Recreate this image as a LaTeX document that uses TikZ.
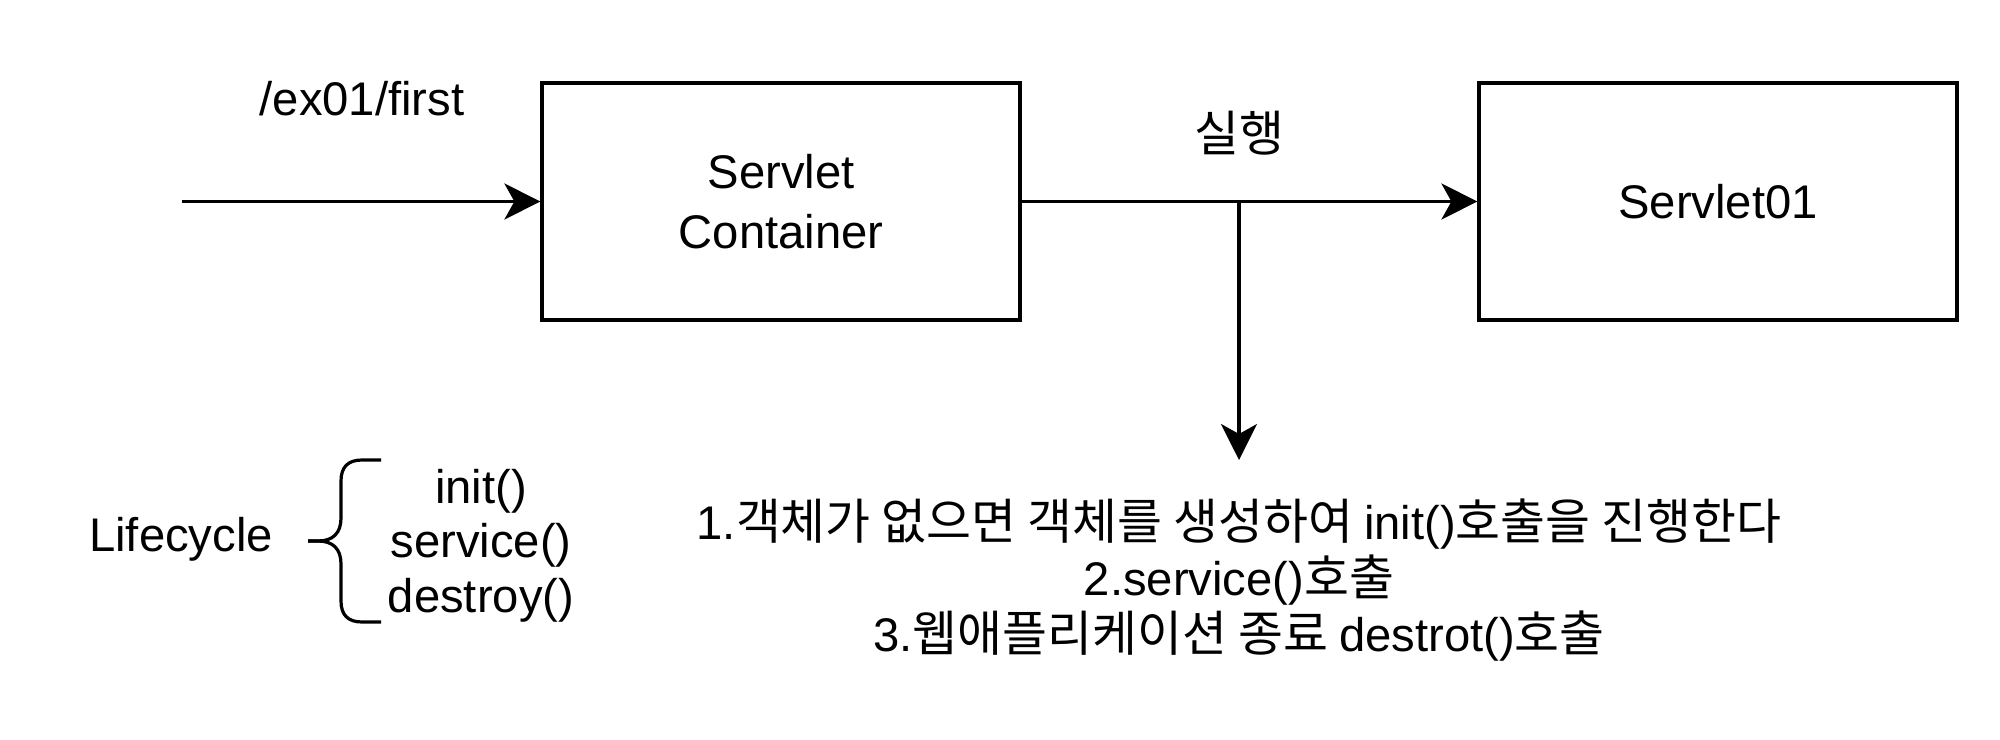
\documentclass[tikz,border=0pt]{standalone}
\usepackage{fontspec}
\setmainfont{Liberation Sans}
\newfontfamily\kr[Scale=1.035]{Noto Sans CJK KR}
\usetikzlibrary{arrows.meta}
\begin{document}
\begin{tikzpicture}[x=0.5pt,y=-0.5pt,
  txt/.style={inner sep=0pt, font=\fontsize{23.6pt}{30pt}\selectfont},
  box/.style={txt, draw, line width=1.6pt, minimum width=239pt, minimum height=118.5pt, align=center},
  conn/.style={line width=1.6pt, -{Stealth[length=18pt, width=18pt, inset=5pt]}},
  brace/.style={line width=1.6pt, line join=round}
]
\useasboundingbox (0,0) rectangle (2000,739);
% boxes
\node[box] (sc) at (781,201.5) {Servlet\\Container};
\node[box] (s01) at (1718,201.5) {Servlet01};
% incoming request
\coordinate (in) at (182,201.5);
\draw[conn] (in) -- (sc.west);
\node[txt, anchor=base] (url) at (362,115) {/ex01/first};
% execute
\draw[conn] (sc.east) -- (s01.west);
\node[txt, anchor=base] (run) at (1239,151) {\kr 실행};
\coordinate (junc) at (1239,201.5);
\coordinate (down) at (1239,460);
\draw[conn] (junc) -- (down);
% explanation
\node[txt, anchor=base] (t1) at (1239,539) {1.{\kr 객체가 없으면 객체를 생성하여 }init(){\kr 호출을 진행한다}};
\node[txt, anchor=base] (t2) at (1239,595) {2.service(){\kr 호출}};
\node[txt, anchor=base] (t3) at (1239,651) {3.{\kr 웹애플리케이션 종료 }destrot(){\kr 호출}};
% lifecycle
\node[txt, anchor=base] (lc) at (181,551) {Lifecycle};
\node[txt, anchor=base] (m1) at (481,503) {init()};
\node[txt, anchor=base] (m2) at (481,557) {service()};
\node[txt, anchor=base] (m3) at (481,612) {destroy()};
\draw[brace] (381,460) -- (362,460) .. controls (348,460) and (341,467) .. (341,481)
  -- (341,518) .. controls (341,533) and (333,541) .. (318,541) -- (308,541);
\draw[brace] (308,541) -- (318,541) .. controls (333,541) and (341,549) .. (341,564)
  -- (341,601) .. controls (341,615) and (348,622) .. (362,622) -- (381,622);
\end{tikzpicture}
\end{document}
